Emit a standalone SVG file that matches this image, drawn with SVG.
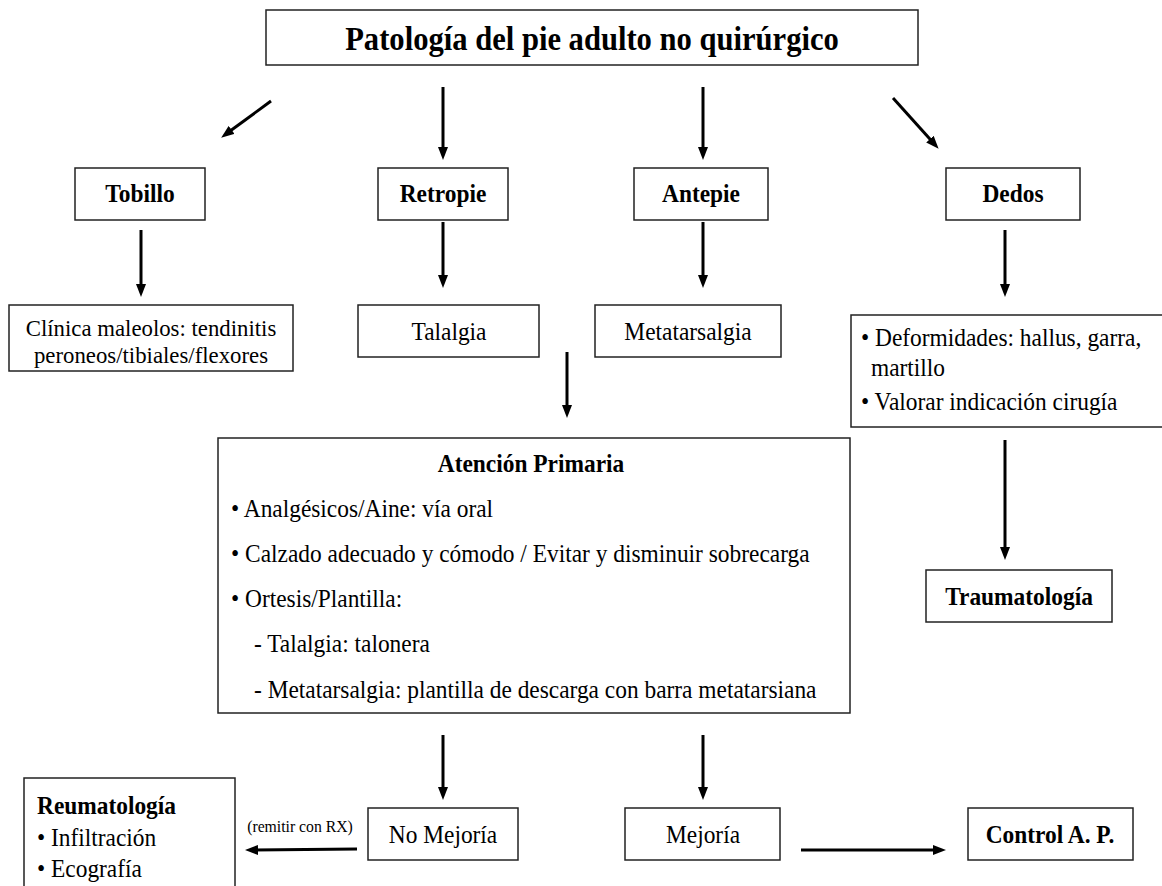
<svg xmlns="http://www.w3.org/2000/svg" width="1162" height="886" viewBox="0 0 1162 886">
<style>
.box{fill:#fff;stroke:#222;stroke-width:1.5}
.t{font-family:"Liberation Serif","Times New Roman",serif;font-size:26px;fill:#000}
.b{font-weight:bold}
.c{text-anchor:middle}
.s{font-size:17.5px}
.m{font-size:23.5px}
.h{font-size:34px}
.arr{stroke:#000;stroke-width:3;fill:none;marker-end:url(#ah)}
</style>
<defs>
<marker id="ah" viewBox="0 0 13 10" markerWidth="13" markerHeight="10" refX="4" refY="5" orient="auto" markerUnits="userSpaceOnUse"><path d="M0,0 L13,5 L0,10 z" fill="#000"/></marker>
</defs>
<rect width="1162" height="886" fill="#fff"/>
<g id="title"><rect class="box" x="266" y="10" width="652" height="55"/><text class="t b c h" transform="translate(592 50) scale(.9 1)">Patología del pie adulto no quirúrgico</text></g>
<g id="tobillo"><rect class="box" x="75" y="168" width="130" height="52"/><text class="t b c" transform="translate(140 202) scale(.9 1)">Tobillo</text></g>
<g id="retropie"><rect class="box" x="378" y="168" width="130" height="52"/><text class="t b c" transform="translate(443 202) scale(.9 1)">Retropie</text></g>
<g id="antepie"><rect class="box" x="634" y="168" width="134" height="52"/><text class="t b c" transform="translate(701 202) scale(.9 1)">Antepie</text></g>
<g id="dedos"><rect class="box" x="946" y="168" width="134" height="52"/><text class="t b c" transform="translate(1013 202) scale(.9 1)">Dedos</text></g>
<g id="clinica"><rect class="box" x="9" y="305" width="284" height="66"/><text class="t c m" transform="translate(151 336) scale(.97 1)">Clínica maleolos: tendinitis</text><text class="t c m" transform="translate(151 363) scale(.97 1)">peroneos/tibiales/flexores</text></g>
<g id="talalgia"><rect class="box" x="358" y="305" width="181" height="52"/><text class="t c" transform="translate(449 340) scale(.9 1)">Talalgia</text></g>
<g id="metatarsalgia"><rect class="box" x="595" y="305" width="186" height="52"/><text class="t c" transform="translate(688 340) scale(.9 1)">Metatarsalgia</text></g>
<g id="deformidades"><rect class="box" x="851" y="315" width="320" height="112"/><text class="t" transform="translate(861 346) scale(.9 1)">• Deformidades: hallus, garra,</text><text class="t" transform="translate(871 376) scale(.9 1)">martillo</text><text class="t" transform="translate(861 410) scale(.9 1)">• Valorar indicación cirugía</text></g>
<g id="atencion"><rect class="box" x="218" y="438" width="632" height="275"/>
<text class="t b c" transform="translate(531 472) scale(.9 1)">Atención Primaria</text>
<text class="t" transform="translate(231 517) scale(.9 1)">•  Analgésicos/Aine: vía oral</text>
<text class="t" transform="translate(231 562) scale(.9 1)">•  Calzado adecuado y cómodo / Evitar y disminuir sobrecarga</text>
<text class="t" transform="translate(231 607) scale(.9 1)">•  Ortesis/Plantilla:</text>
<text class="t" transform="translate(254 652) scale(.9 1)">- Talalgia: talonera</text>
<text class="t" transform="translate(254 698) scale(.9 1)">- Metatarsalgia: plantilla de descarga con barra metatarsiana</text></g>
<g id="traumatologia"><rect class="box" x="926" y="570" width="186" height="52"/><text class="t b c" transform="translate(1019 605) scale(.9 1)">Traumatología</text></g>
<g id="nomejoria"><rect class="box" x="368" y="808" width="150" height="52"/><text class="t c" transform="translate(443 843) scale(.9 1)">No Mejoría</text></g>
<g id="mejoria"><rect class="box" x="625" y="808" width="155" height="52"/><text class="t c" transform="translate(703 843) scale(.9 1)">Mejoría</text></g>
<g id="control"><rect class="box" x="968" y="808" width="165" height="52"/><text class="t b c" transform="translate(1050 843) scale(.9 1)">Control A. P.</text></g>
<g id="reumatologia"><rect class="box" x="24" y="778" width="211" height="130"/><text class="t b" transform="translate(37 814) scale(.9 1)">Reumatología</text><text class="t" transform="translate(37 846) scale(.9 1)">• Infiltración</text><text class="t" transform="translate(37 877) scale(.9 1)">• Ecografía</text></g>
<g id="connectors">
<line class="arr" x1="271" y1="101" x2="228.4" y2="132.3"/>
<line class="arr" x1="443" y1="87" x2="443" y2="151"/>
<line class="arr" x1="703" y1="87" x2="703" y2="151"/>
<line class="arr" x1="893" y1="98" x2="932.6" y2="142.1"/>
<line class="arr" x1="141" y1="230" x2="141" y2="288"/>
<line class="arr" x1="443" y1="222" x2="443" y2="279"/>
<line class="arr" x1="703" y1="222" x2="703" y2="279"/>
<line class="arr" x1="1005" y1="230" x2="1005" y2="288"/>
<line class="arr" x1="567" y1="352" x2="567" y2="409"/>
<line class="arr" x1="1005" y1="440" x2="1005" y2="551"/>
<line class="arr" x1="443" y1="735" x2="443" y2="791"/>
<line class="arr" x1="703" y1="735" x2="703" y2="791"/>
<line class="arr" x1="357" y1="849" x2="254" y2="850"/>
<line class="arr" x1="801" y1="850" x2="937" y2="850"/>
<text class="t c s" transform="translate(300 832) scale(.9 1)">(remitir con RX)</text>
</g>
</svg>
